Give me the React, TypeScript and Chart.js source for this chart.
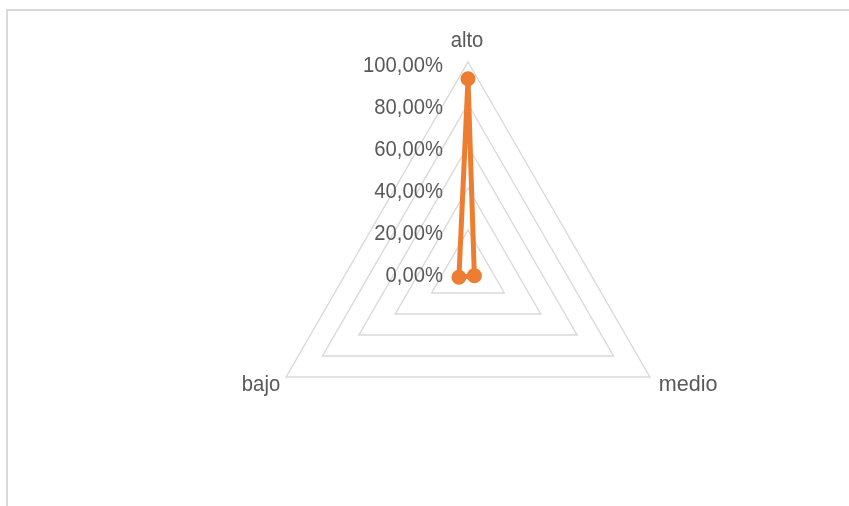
import React, { useEffect, useRef } from "react";
import { Chart, registerables } from "chart.js";

Chart.register(...registerables);

const categories = ["alto", "medio", "bajo"];
const seriesValues = [92, 3.5, 5];
const tickValues = [0, 20, 40, 60, 80, 100];

const fmt = (v: number) => v.toFixed(2).replace(".", ",") + "%";

function drawText(ctx: CanvasRenderingContext2D, text: string, x: number, y: number, align: CanvasTextAlign, sx: number) {
  ctx.save();
  ctx.translate(x, y);
  ctx.scale(sx, 1);
  ctx.textAlign = align;
  ctx.textBaseline = "alphabetic";
  ctx.fillText(text, 0, 0);
  ctx.restore();
}

const labelPlugin = {
  id: "customLabels",
  afterDraw(chart: any) {
    const scale = chart.scales.r;
    const ctx = chart.ctx;
    ctx.save();
    ctx.fillStyle = "#595959";
    ctx.font = "22px 'Liberation Sans', Arial, sans-serif";
    tickValues.forEach((v) => {
      const d = scale.getDistanceFromCenterForValue(v);
      drawText(ctx, fmt(v), scale.xCenter - 25, scale.yCenter - d + 9.5, "right", 0.92);
    });
    const outer = scale.getDistanceFromCenterForValue(tickValues[tickValues.length - 1]);
    categories.forEach((c, i) => {
      const p = scale.getPointPosition(i, outer);
      if (i === 0) {
        drawText(ctx, c, p.x - 1, p.y - 15.5, "center", 0.92);
      } else if (p.x > scale.xCenter) {
        drawText(ctx, c, p.x + 9, p.y + 14, "left", 0.98);
      } else {
        drawText(ctx, c, p.x - 6, p.y + 14, "right", 0.92);
      }
    });
    ctx.restore();
  },
};

export default function App() {
  const ref = useRef<HTMLCanvasElement>(null);
  useEffect(() => {
    if (!ref.current) return;
    const chart = new Chart(ref.current, {
      type: "radar",
      data: {
        labels: categories,
        datasets: [
          {
            label: "Serie",
            data: seriesValues,
            borderColor: "#ED7D31",
            backgroundColor: "#ED7D31",
            borderWidth: 5,
            fill: false,
            pointRadius: 6.5,
            pointBorderWidth: 2,
            pointBackgroundColor: "#ED7D31",
            pointBorderColor: "#ED7D31",
          },
        ],
      },
      options: {
        responsive: false,
        animation: false,
        devicePixelRatio: 1,
        layout: { padding: { left: 168.3, right: 80.7, top: 62.4, bottom: 23.6 } },
        plugins: { legend: { display: false }, tooltip: { enabled: false } },
        scales: {
          r: {
            min: 0,
            max: 100,
            ticks: { display: false, stepSize: 20 },
            grid: { color: "#D9D9D9", lineWidth: 1.4, circular: false },
            angleLines: { display: false },
            pointLabels: { display: false },
          },
        },
      },
      plugins: [labelPlugin],
    });
    return () => chart.destroy();
  }, []);
  return (
    <div style={{ position: "fixed", left: 0, top: 0, width: 849, height: 506, overflow: "hidden", background: "#fff" }}>
      <div style={{ position: "absolute", left: 6, top: 9, width: 1000, height: 1000, border: "2px solid #D9D9D9" }} />
      <canvas ref={ref} width={849} height={506} style={{ position: "absolute", left: 0, top: 0 }} />
    </div>
  );
}
